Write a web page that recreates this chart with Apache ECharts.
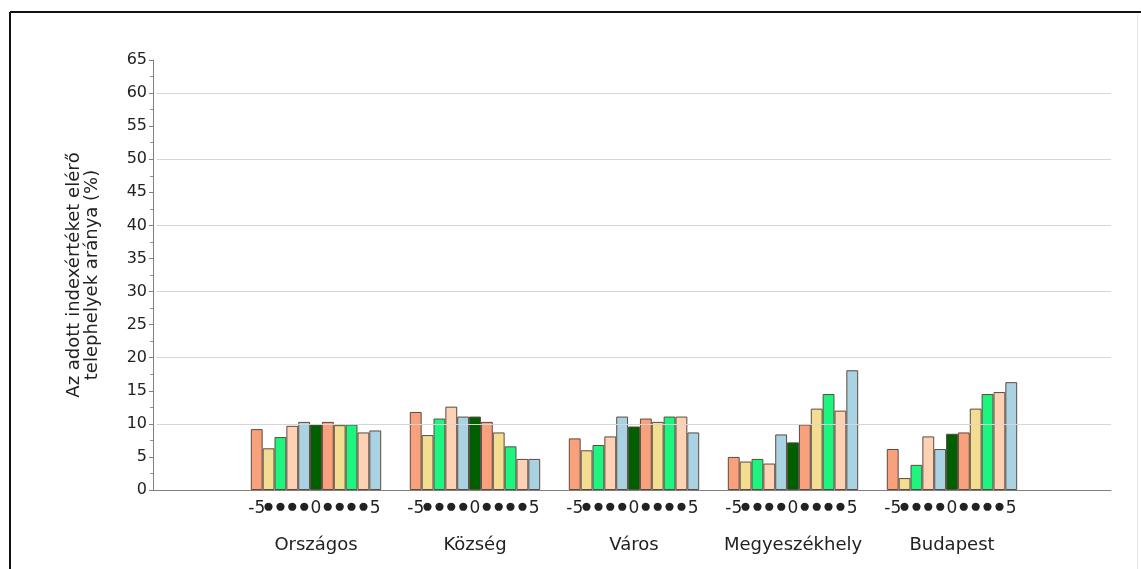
<!DOCTYPE html>
<html>
<head>
<meta charset="utf-8">
<script src="https://cdn.jsdelivr.net/npm/echarts@6/dist/echarts.min.js"></script>
<style>
html,body{margin:0;padding:0;background:#fff;}
#chart{width:1141px;height:569px;}
</style>
</head>
<body>
<div id="chart"></div>
<script>
// Groups (categories) and tick text
const groups = ['Országos', 'Község', 'Város', 'Megyeszékhely', 'Budapest'];
const indexNames = ['-5','-4','-3','-2','-1','0','1','2','3','4','5'];
const indexTickLabels = ['-5','●','●','●','●','0','●','●','●','●','5'];
const yTicks = [0, 65, 5];
const gridValues = [10, 20, 30, 40, 50, 60];

// Values per group, index -5 .. 5 (%)
const orszagos      = [9.2, 6.3, 8.0, 9.7, 10.3, 9.9, 10.3, 9.8, 9.9, 8.7, 9.0];
const kozseg        = [11.8, 8.3, 10.8, 12.6, 11.1, 11.1, 10.3, 8.7, 6.6, 4.7, 4.7];
const varos         = [7.8, 6.0, 6.8, 8.1, 11.1, 9.6, 10.8, 10.3, 11.1, 11.1, 8.7];
const megyeszekhely = [5.0, 4.3, 4.7, 4.0, 8.4, 7.2, 9.9, 12.3, 14.5, 12.0, 18.1];
const budapest      = [6.2, 1.8, 3.8, 8.1, 6.2, 8.5, 8.7, 12.3, 14.5, 14.8, 16.3];

const groupValues = [orszagos, kozseg, varos, megyeszekhely, budapest];
const colors = ['#F9A07C', '#F3DD90', '#1EF57E', '#FDD2B4', '#A9D2E2', '#006000',
                '#F9A07C', '#F3DD90', '#1EF57E', '#FDD2B4', '#A9D2E2'];

const cats = [''].concat(groups).concat(['']);
const FONT = '"DejaVu Sans", Verdana, sans-serif';
const DOTFONT = '"Liberation Sans", Arial, sans-serif';

const series = indexNames.map((nm, i) => {
  const isDot = indexTickLabels[i] === '●';
  return {
    name: nm,
    type: 'bar',
    z: 3,
    barGap: '0%',
    barCategoryGap: '18%',
    itemStyle: { color: colors[i], borderColor: '#5a4a40', borderWidth: 1 },
    label: {
      show: true,
      position: 'bottom',
      distance: isDot ? 7 : 10,
      formatter: () => indexTickLabels[i],
      color: '#222',
      fontSize: isDot ? 19 : 17,
      fontFamily: isDot ? DOTFONT : FONT
    },
    data: [null].concat(groupValues.map(g => g[i])).concat([null])
  };
});

series.unshift({
  type: 'line',
  data: [],
  z: 1,
  silent: true,
  markLine: {
    silent: true,
    symbol: ['none', 'none'],
    label: { show: false },
    lineStyle: { color: '#d6d6d6', type: 'solid', width: 1 },
    data: gridValues.map(v => ({ yAxis: v }))
  }
});

const chart = echarts.init(document.getElementById('chart'), null, { renderer: 'canvas' });
chart.setOption({
  animation: false,
  backgroundColor: '#ffffff',
  textStyle: { fontFamily: FONT },
  grid: { left: 157, right: 30, top: 60, bottom: 79, containLabel: false },
  xAxis: {
    type: 'category',
    data: cats,
    boundaryGap: false,
    axisLine: { lineStyle: { color: '#808080', width: 1 } },
    axisTick: { show: false },
    splitLine: { show: false },
    axisLabel: {
      interval: 0,
      margin: 45,
      color: '#222',
      fontFamily: FONT,
      fontSize: 18,
      lineHeight: 20,
      formatter: v => v
    }
  },
  yAxis: {
    type: 'value',
    min: yTicks[0], max: yTicks[1], interval: yTicks[2],
    offset: 4,
    name: 'Az adott indexértéket elérő\ntelephelyek aránya (%)',
    nameLocation: 'middle',
    nameGap: 52,
    nameRotate: 90,
    nameTextStyle: { color: '#222', fontSize: 18, lineHeight: 18, fontFamily: FONT },
    axisLine: { show: true, lineStyle: { color: '#808080', width: 1 } },
    axisTick: { show: true, inside: false, length: 4, lineStyle: { color: '#808080' } },
    minorTick: { show: true, splitNumber: 2, length: 3, lineStyle: { color: '#909090' } },
    splitLine: { show: false },
    axisLabel: { color: '#222', fontSize: 16, margin: 6, fontFamily: FONT }
  },
  graphic: [
    { type: 'line', silent: true, shape: { x1: 10, y1: 12, x2: 1141, y2: 12 }, style: { stroke: '#111', lineWidth: 2 } },
    { type: 'line', silent: true, shape: { x1: 10, y1: 12, x2: 10, y2: 569 }, style: { stroke: '#111', lineWidth: 2 } },
    { type: 'line', silent: true, shape: { x1: 153, y1: 490.5, x2: 157, y2: 490.5 }, style: { stroke: '#808080', lineWidth: 1 } },
    { type: 'line', silent: true, shape: { x1: 1137.5, y1: 14, x2: 1137.5, y2: 569 }, style: { stroke: '#e6e6e6', lineWidth: 1 } }
  ],
  series: series
});
</script>
</body>
</html>
